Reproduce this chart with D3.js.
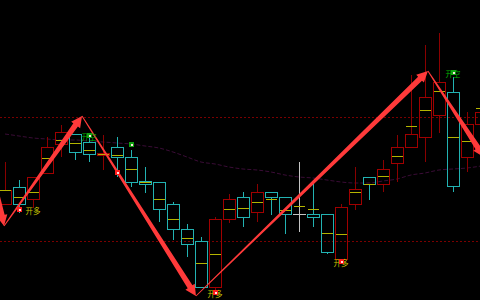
<!DOCTYPE html>
<html>
<head>
<meta charset="utf-8">
<script src="https://cdn.jsdelivr.net/npm/d3@7"></script>
<style>
  html, body { margin: 0; padding: 0; background: #000; }
  svg { display: block; }
</style>
</head>
<body>
<svg class="kline" width="480" height="300"></svg>
<script>
// candle data, one entry per bar
const opens  = [4192, 4226, 4202, 4254, 4312, 4332, 4316, 4291, 4306, 4286, 4238, 4236, 4192, 4142, 4118, 4026, 4162, 4206, 4176, 4216, 4206, 4172, 4172, 4172, 4082, 4192, 4246, 4232, 4274, 4306, 4326, 4370, 4416, 4286, 4352];
const closes = [4220, 4192, 4246, 4306, 4336, 4296, 4292, 4295, 4286, 4236, 4232, 4182, 4142, 4112, 4026, 4162, 4202, 4166, 4216, 4206, 4172, 4172, 4166, 4096, 4186, 4222, 4232, 4262, 4306, 4332, 4406, 4436, 4228, 4352, 4376];
const highs  = [4276, 4240, 4246, 4326, 4350, 4332, 4330, 4330, 4326, 4300, 4266, 4236, 4196, 4152, 4126, 4166, 4212, 4216, 4232, 4216, 4206, 4276, 4236, 4172, 4192, 4266, 4246, 4280, 4330, 4450, 4510, 4534, 4446, 4376, 4390];
const lows   = [4192, 4174, 4184, 4254, 4286, 4280, 4276, 4260, 4246, 4226, 4214, 4156, 4120, 4086, 4026, 4020, 4154, 4146, 4156, 4170, 4132, 4136, 4146, 4092, 4082, 4180, 4200, 4216, 4236, 4306, 4276, 4334, 4216, 4256, 4340];
const mids   = [4220, 4206, 4216, 4284, 4320, 4314, 4300, 4293, 4290, 4262, 4236, 4202, 4162, 4124, 4074, 4092, 4182, 4184, 4196, 4202, 4180, 4188, 4182, 4134, 4132, 4216, 4232, 4248, 4288, 4348, 4380, 4418, 4326, 4318, 4384];
const maLine = [4332, 4328, 4324, 4322, 4320, 4320, 4318, 4316, 4314, 4312, 4308, 4304, 4296, 4286, 4276, 4272, 4266, 4262, 4260, 4256, 4250, 4246, 4244, 4240, 4236, 4234, 4234, 4238, 4242, 4250, 4254, 4260, 4262, 4264, 4268];

// zigzag turning points (bar position, price)
const zigIndex = [-0.79, -0.07, 5.5, 13.64, 30.21, 34.21];
const zigPrice = [4250, 4148, 4368, 4008, 4458, 4286];

// signals
const buyIndex = [1, 8, 15, 24];
const buyPrice = [4182, 4256, 4016, 4078];
const sellIndex = [6, 9, 32];
const sellPrice = [4330, 4312, 4456];
const labelIndex = [2, 6, 15, 24, 32];
const labelPrice = [4180, 4328, 4014, 4076, 4454];
const labelText = ['开多', '开空', '开多', '开多', '开空'];

const levels = [4366, 4118];

const svg = d3.select('.kline');
const width = +svg.attr('width');
const height = +svg.attr('height');

const x = d3.scaleLinear().domain([0, 34]).range([5, 481]);
const y = d3.scaleLinear().domain([4000, 4600]).range([height, 0]);

const candles = opens.map((o, i) => ({
  i, open: o, close: closes[i], high: highs[i], low: lows[i], mid: mids[i],
}));

const RED = '#a00000';
const CYAN = '#22b2b2';
const GREY = '#c4c4c4';
const colorOf = d => (d.close > d.open ? RED : d.close < d.open ? CYAN : GREY);
const px = v => Math.round(v) + 0.5;

svg.append('rect').attr('width', width).attr('height', height).attr('fill', '#000');

// dashed level lines
svg.append('g')
  .selectAll('line')
  .data(levels)
  .enter()
  .append('line')
  .attr('x1', 0)
  .attr('x2', width)
  .attr('y1', d => px(y(d)))
  .attr('y2', d => px(y(d)))
  .attr('stroke', '#7a0000')
  .attr('stroke-dasharray', '2,2')
  .attr('shape-rendering', 'crispEdges');

// moving average
svg.append('path')
  .datum(maLine)
  .attr('fill', 'none')
  .attr('stroke', '#3a0c36')
  .attr('stroke-width', 1)
  .attr('stroke-dasharray', '4,2')
  .attr('d', d3.line().x((d, i) => x(i)).y(d => y(d)).curve(d3.curveMonotoneX));

// candles
const g = svg.append('g').attr('shape-rendering', 'crispEdges');
const bar = g.selectAll('g').data(candles).enter().append('g');

bar.append('line')
  .attr('x1', d => px(x(d.i))).attr('x2', d => px(x(d.i)))
  .attr('y1', d => y(d.high))
  .attr('y2', d => y(Math.max(d.open, d.close)))
  .attr('stroke', d => (colorOf(d) === RED ? '#8a0000' : colorOf(d)));

bar.append('line')
  .attr('x1', d => px(x(d.i))).attr('x2', d => px(x(d.i)))
  .attr('y1', d => y(Math.min(d.open, d.close)))
  .attr('y2', d => y(d.low))
  .attr('stroke', d => (colorOf(d) === RED ? '#8a0000' : colorOf(d)));

bar.filter(d => d.open !== d.close)
  .append('rect')
  .attr('x', d => Math.round(x(d.i)) - 5.5)
  .attr('y', d => px(y(Math.max(d.open, d.close))))
  .attr('width', 12)
  .attr('height', d => Math.max(1, Math.round(Math.abs(y(d.open) - y(d.close)))))
  .attr('fill', 'none')
  .attr('stroke', colorOf);

bar.filter(d => d.open === d.close)
  .append('line')
  .attr('x1', d => Math.round(x(d.i)) - 6).attr('x2', d => Math.round(x(d.i)) + 7)
  .attr('y1', d => px(y(d.close))).attr('y2', d => px(y(d.close)))
  .attr('stroke', GREY);

bar.append('line')
  .attr('x1', d => Math.round(x(d.i)) - 5).attr('x2', d => Math.round(x(d.i)) + 6)
  .attr('y1', d => px(y(d.mid))).attr('y2', d => px(y(d.mid)))
  .attr('stroke', '#b4b400');

// tapered zigzag arrows
function arrowPath(a, b) {
  const dx = b[0] - a[0];
  const dy = b[1] - a[1];
  const len = Math.hypot(dx, dy);
  const ux = dx / len, uy = dy / len;
  const nx = -uy, ny = ux;
  const headLen = 11, headW = 5.5, tail = 0.5, neck = 2.8;
  const hx = b[0] - ux * headLen, hy = b[1] - uy * headLen;
  const pts = [
    [a[0] + nx * tail, a[1] + ny * tail],
    [hx + nx * neck, hy + ny * neck],
    [hx + nx * headW, hy + ny * headW],
    b,
    [hx - nx * headW, hy - ny * headW],
    [hx - nx * neck, hy - ny * neck],
    [a[0] - nx * tail, a[1] - ny * tail],
  ];
  return 'M' + pts.map(p => p.join(',')).join('L') + 'Z';
}

const zig = zigIndex.map((v, i) => [x(v), y(zigPrice[i])]);
svg.append('g')
  .selectAll('path')
  .data(d3.pairs(zig))
  .enter()
  .append('path')
  .attr('fill', '#ff3a3a')
  .attr('d', d => arrowPath(d[0], d[1]));

// signal labels
svg.append('g')
  .selectAll('text')
  .data(labelText)
  .enter()
  .append('text')
  .attr('x', (d, i) => x(labelIndex[i]))
  .attr('y', (d, i) => y(labelPrice[i]))
  .attr('text-anchor', 'middle')
  .attr('dominant-baseline', 'central')
  .attr('font-family', '"Noto Sans CJK SC", sans-serif')
  .attr('font-size', '7.5px')
  .attr('fill', d => (d === '开多' ? '#c8c400' : '#00b400'))
  .text(d => d);

// signal dots
function dots(idx, prices, color) {
  const d = svg.append('g').selectAll('g')
    .data(idx.map((v, i) => [x(v), y(prices[i])]))
    .enter().append('g')
    .attr('shape-rendering', 'crispEdges');
  d.append('rect')
    .attr('x', p => Math.round(p[0]) - 2).attr('y', p => Math.round(p[1]) - 2)
    .attr('width', 5).attr('height', 5)
    .attr('fill', color);
  d.append('rect')
    .attr('x', p => Math.round(p[0]) - 0.5).attr('y', p => Math.round(p[1]) - 0.5)
    .attr('width', 2).attr('height', 2)
    .attr('fill', '#ffe0e0');
}
dots(buyIndex, buyPrice, '#ff1e1e');
dots(sellIndex, sellPrice, '#10a010');
</script>
</body>
</html>
